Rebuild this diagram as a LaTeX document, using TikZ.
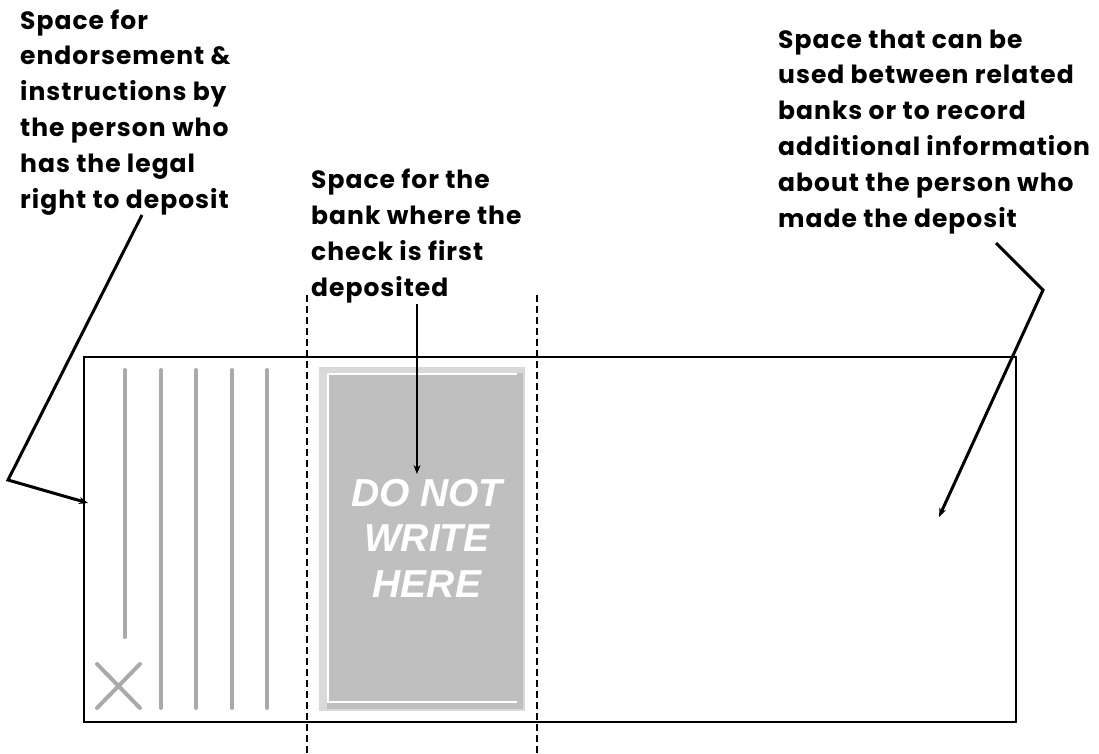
\documentclass[tikz,border=0pt]{standalone}
\usepackage{fontspec}
\setmainfont{Poppins}[LetterSpace=4]
\newfontfamily\arialfont{Liberation Sans}
\usetikzlibrary{arrows.meta}
\definecolor{penline}{HTML}{AAAAAA}
\definecolor{boxlight}{HTML}{D9D9D9}
\definecolor{boxdark}{HTML}{BFBFBF}
\tikzset{
  label/.style={anchor=base west, inner sep=0pt, align=left,
    font=\bfseries\fontsize{25}{35.8}\selectfont},
  callout/.style={line width=3pt, -{Stealth[length=9pt,width=7pt]}},
  thinarrow/.style={line width=1.3pt, -{Stealth[length=9pt,width=7pt]}},
  cutline/.style={line width=1.3pt, dash pattern=on 7pt off 4pt},
  penstroke/.style={draw=penline, line width=4pt, line cap=round},
}
\begin{document}
\begin{tikzpicture}[x=1pt,y=-1pt]
\useasboundingbox (0,0) rectangle (1099,754);
% check back
\node[draw, line width=2pt, minimum width=932pt, minimum height=365pt, anchor=north west, inner sep=0pt] (check) at (83,356) {};
% dashed zone
\draw[cutline] (307,295) -- (307,754);
\draw[cutline] (537,295) -- (537,754);
% endorsement lines
\draw[penstroke] (125,370) -- (125,637);
\foreach \xx in {161,196,232,267} \draw[penstroke] (\xx,370) -- (\xx,708);
\draw[penstroke] (97,664) -- (140,708) (140,664) -- (97,708);
% do not write box
\fill[boxlight] (319,367) rectangle (525,711);
\fill[boxdark] (327,373) rectangle (523,709);
\draw[white, line width=1.2pt] (517,374) -- (328,374) -- (328,702) -- (517,702);
\node[text=white, align=center, inner sep=0pt, font=\arialfont\bfseries\itshape\fontsize{39}{45.5}\selectfont] (dnw) at (427,538) {DO NOT\\WRITE\\HERE};
% labels
\node[label] (lt) at (20,208) {Space for\\endorsement \&\\instructions by\\the person who\\has the legal\\right to deposit};
\node[label] (mt) at (311,296) {Space for the\\bank where the\\check is first\\deposited};
\node[label] (rt) at (778,227) {Space that can be\\used between related\\banks or to record\\additional information\\about the person who\\made the deposit};
% connectors
\coordinate (lstart) at (142,215);
\coordinate (lbend) at (8,480);
\coordinate (lend) at (88,503);
\draw[callout] (lstart) -- (lbend) -- (lend);
\coordinate (mstart) at (417,304);
\coordinate (mend) at (417,474);
\draw[thinarrow] (mstart) -- (mend);
\coordinate (rstart) at (996,243);
\coordinate (rbend) at (1043,290);
\coordinate (rend) at (939,517);
\draw[callout] (rstart) -- (rbend) -- (rend);
\end{tikzpicture}
\end{document}
